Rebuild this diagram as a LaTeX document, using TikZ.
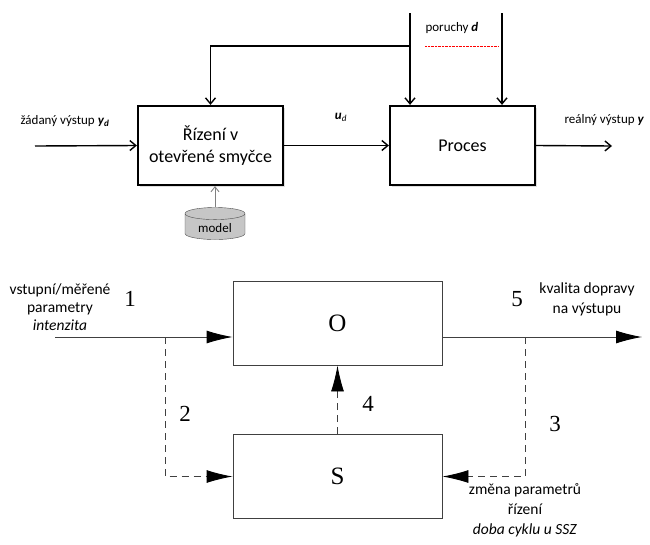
\documentclass[tikz,border=0pt]{standalone}
\usepackage{fontspec}
\setmainfont{Carlito}
\newfontfamily\timesfont{Liberation Serif}
\usetikzlibrary{arrows.meta, positioning, shapes.geometric, shadows}

\begin{document}
\begin{tikzpicture}[x=1pt, y=-1pt,
    block/.style={draw, line width=2.2pt, fill=white, minimum width=145pt, minimum height=79pt,
        font=\fontsize{18}{22}\selectfont, align=center,
        drop shadow={opacity=0.25, shadow xshift=2pt, shadow yshift=-2pt}},
    lbl/.style={font=\fontsize{13}{15}\selectfont},
    arrow/.style={-{Straight Barb[length=6pt,width=10pt]}, line width=1.4pt},
    sbox/.style={draw=black!75, line width=0.9pt, minimum width=209pt, minimum height=84pt,
        font=\timesfont\fontsize{25}{28}\selectfont},
    num/.style={font=\timesfont\fontsize{23}{25}\selectfont},
    note/.style={font=\fontsize{15.5}{20}\selectfont, align=center},
    sarrow/.style={-{Latex[length=26pt,width=13pt,color=black]}, line width=0.9pt, draw=black!75},
    dasharrow/.style={sarrow, dash pattern=on 7pt off 5pt}
]
    \useasboundingbox (0,0) rectangle (650,544);

    % otevrena smycka
    \node[block] (ctrl) at (210.5,145.5) {Řízení v\\otevřené smyčce};
    \node[block] (proc) at (462.5,145.5) {Proces};
    \node[cylinder, shape border rotate=90, aspect=0.3, draw=black!70, fill=gray!45,
          minimum width=60pt, minimum height=32pt, font=\fontsize{13}{15}\selectfont] (model) at (215,228) {model};
    \coordinate (yd) at (35,146);
    \coordinate (yout) at (612,146);
    \coordinate (d1) at (410,13);
    \coordinate (d2) at (502,13);
    \coordinate (fb) at (410,46);
    \coordinate (dl1) at (425,46);
    \coordinate (dl2) at (498,46);
    \draw[arrow] (yd) -- (ctrl.west);
    \draw[arrow] (ctrl.east) -- (proc.west);
    \draw[arrow] (proc.east) -- (yout);
    \draw[arrow] (d1) -- (d1 |- proc.north);
    \draw[arrow] (d2) -- (d2 |- proc.north);
    \draw[arrow] (fb) -| (ctrl.north);
    \draw[red, densely dotted] (dl1) -- (dl2);
    \draw[-{Straight Barb[length=5pt,width=8pt]}, gray, line width=0.9pt] (model.north) -- (model.north |- ctrl.south);
    \node[lbl, anchor=west] (ydl) at (17,121) {žádaný výstup \textbf{\textit{y}}\textsubscript{\textbf{\textit{d}}}};
    \node[lbl] (udl) at (341,117) {\textbf{\textit{u}}\textsubscript{\textit{d}}};
    \node[lbl, anchor=west] (dl) at (422,28) {poruchy \textbf{\textit{d}}};
    \node[lbl, anchor=west] (yl) at (561,120) {reálný výstup \textbf{\textit{y}}};

    % O a S
    \node[sbox] (O) at (337.5,323) {O};
    \node[sbox] (S) at (337.5,476.5) {S};
    \coordinate (in) at (55,337);
    \coordinate (b1) at (165,337);
    \coordinate (b5) at (525,337);
    \coordinate (out) at (642,337);
    \draw[sarrow] (in) -- (O.west |- in);
    \draw[sarrow] (O.east |- out) -- (out);
    \draw[dasharrow] (b1) |- (S.west);
    \draw[dasharrow] (b5) |- (S.east);
    \draw[dasharrow] (S.north) -- (O.south);
    \node[num] (n1) at (130,299) {1};
    \node[num] (n2) at (185,414) {2};
    \node[num] (n3) at (555,424) {3};
    \node[num] (n4) at (368,404) {4};
    \node[num] (n5) at (517,299) {5};
    \node[note, font=\fontsize{15.5}{18}\selectfont] (inl) at (60,307) {vstupní/měřené\\parametry\\\textit{intenzita}};
    \node[note] (outl) at (587,299) {kvalita dopravy\\na výstupu};
    \node[note] (chl) at (525,510) {změna parametrů\\řízení\\\textit{doba cyklu u SSZ}};
\end{tikzpicture}
\end{document}
